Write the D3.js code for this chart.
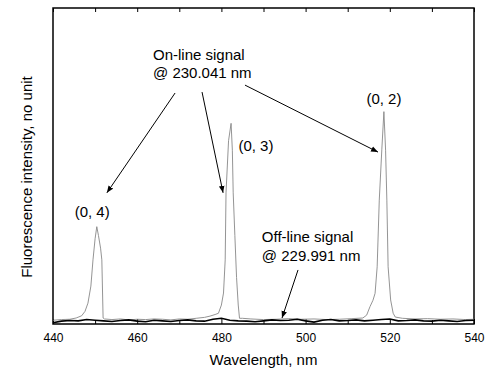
<!DOCTYPE html>
<html>
<head>
<meta charset="utf-8">
<script src="https://cdn.jsdelivr.net/npm/d3@7"></script>
<style>
  body { margin: 0; background: #fff; }
  text { font-family: "Liberation Sans", Arial, sans-serif; fill: #000; }
</style>
</head>
<body>
<svg id="chart" width="490" height="371"></svg>
<script>
// on-line signal (230.041 nm excitation)
const onWl = [440, 442, 444, 445.5, 446.8, 447.6, 448.3, 449.0, 449.5, 450.0, 450.4, 450.8, 451.3, 451.6, 451.9, 452.2,
  454, 456, 458, 460, 462, 464, 466, 468, 470, 472, 474, 476, 477.3, 478.5, 479.3, 480.0, 480.5, 480.9, 481.1, 481.7,
  482.3, 482.6, 482.8, 483.2, 483.6, 484.0, 484.3, 485, 487, 490, 493, 496, 499, 502, 505, 508, 511, 513.6, 514.5,
  515.3, 516.0, 516.5, 517.0, 517.5, 518.1, 518.6, 519.0, 519.3, 519.6, 520.2, 520.8, 521.3, 523, 526, 529, 532, 535, 538, 540];
const onVal = [1.2, 1.4, 1.5, 1.9, 2.6, 4.0, 6.6, 12, 20.3, 27, 30.8, 28, 24, 20.3, 1.9, 1.6,
  1.4, 1.6, 1.3, 1.5, 1.4, 1.6, 1.5, 1.3, 1.6, 1.5, 1.8, 2.1, 2.5, 3.0, 3.4, 6.0, 9.8, 20.3, 41.5, 58,
  63.5, 55, 41.5, 28, 14.7, 6, 1.8, 1.8, 1.6, 1.4, 1.5, 1.7, 1.5, 1.6, 1.4, 1.5, 1.7, 1.9, 2.8,
  5.5, 7.5, 9.7, 18.1, 39.2, 55.1, 67.2, 55, 39.2, 18.1, 7.6, 3.4, 2.2, 1.8, 1.6, 1.7, 1.5, 1.6, 1.4, 1.5];

// off-line signal (229.991 nm), every 2 nm from 440 to 540
const offWl = d3.range(440, 541, 2);
const offVal = [0.4, 0.9, 1.1, 1.0, 1.4, 1.2, 1.0, 0.8, 1.1, 1.3, 0.9, 0.7, 1.2, 1.0, 0.8, 1.1, 1.3,
  1.0, 0.9, 1.5, 1.8, 1.2, 1.0, 0.9, 0.7, 1.0, 1.3, 1.1, 1.2, 1.5, 1.0, 0.6, 1.2, 1.4, 1.0, 1.1, 1.3,
  1.0, 1.2, 1.4, 1.6, 1.0, 1.1, 1.3, 1.0, 0.9, 1.2, 1.0, 0.8, 1.1, 1.2];

const xTicks = [440, 460, 480, 500, 520, 540];
const xMinor = [450, 470, 490, 510, 530];

// annotation text, [wavelength, intensity] anchors
const labels = [
  { t: "On-line signal", x: 463.75, y: 83.5, a: "start" },
  { t: "@ 230.041 nm", x: 463.75, y: 78.0, a: "start" },
  { t: "Off-line signal", x: 489.6, y: 25.9, a: "start" },
  { t: "@ 229.991 nm", x: 489.6, y: 19.9, a: "start" },
  { t: "(0, 4)", x: 449.3, y: 33.9, a: "middle" },
  { t: "(0, 3)", x: 488.2, y: 54.7, a: "middle" },
  { t: "(0, 2)", x: 518.6, y: 69.6, a: "middle" }
];
const arrows = [
  { x1: 469.0, y1: 73.1, x2: 452.8, y2: 41.5 },
  { x1: 475.4, y1: 73.4, x2: 480.4, y2: 41.5 },
  { x1: 485.6, y1: 75.6, x2: 517.2, y2: 54.4 },
  { x1: 498.2, y1: 17.1, x2: 494.4, y2: 1.9 }
];

const m = { left: 53, right: 16, top: 8, bottom: 47 };
const W = 490, H = 371;
const svg = d3.select("#chart");

const x = d3.scaleLinear().domain([440, 540]).range([m.left, W - m.right]);
const y = d3.scaleLinear().domain([0, 100]).range([H - m.bottom, m.top]);

svg.append("defs").append("marker")
  .attr("id", "arr")
  .attr("viewBox", "0 0 10 10")
  .attr("refX", 10).attr("refY", 5)
  .attr("markerWidth", 7).attr("markerHeight", 7)
  .attr("markerUnits", "userSpaceOnUse")
  .attr("orient", "auto")
  .append("path").attr("d", "M0,1 L10,5 L0,9 Z").attr("fill", "#000");

// axes
const bottomAxis = svg.append("g")
  .attr("transform", `translate(0,${y(0)})`)
  .call(d3.axisBottom(x).tickValues(xTicks).tickFormat(d3.format("d")).tickSize(-5).tickPadding(9));
bottomAxis.selectAll("text").style("font-size", "12px").style("font-family", "Liberation Sans, Arial");
bottomAxis.select(".domain").remove();

svg.append("g")
  .attr("transform", `translate(0,${y(0)})`)
  .call(d3.axisBottom(x).tickValues(xMinor).tickFormat("").tickSize(-4))
  .select(".domain").remove();

const topAxis = svg.append("g")
  .attr("transform", `translate(0,${y(100)})`)
  .call(d3.axisTop(x).tickValues(xTicks.concat(xMinor)).tickFormat("").tickSize(-4));
topAxis.select(".domain").remove();

// frame
svg.append("rect")
  .attr("x", x(440)).attr("y", y(100))
  .attr("width", x(540) - x(440)).attr("height", y(0) - y(100))
  .attr("fill", "none").attr("stroke", "#000").attr("stroke-width", 1.5);

const line = d3.line().x((d) => x(d[0])).y((d) => y(d[1]));

svg.append("path")
  .datum(onWl.map((w, i) => [w, onVal[i]]))
  .attr("d", line)
  .attr("fill", "none").attr("stroke", "#888").attr("stroke-width", 0.9);

svg.append("path")
  .datum(offWl.map((w, i) => [w, offVal[i]]))
  .attr("d", line)
  .attr("fill", "none").attr("stroke", "#000").attr("stroke-width", 1.6);

svg.append("g").selectAll("line")
  .data(arrows).enter().append("line")
  .attr("x1", (d) => x(d.x1)).attr("y1", (d) => y(d.y1))
  .attr("x2", (d) => x(d.x2)).attr("y2", (d) => y(d.y2))
  .attr("stroke", "#000").attr("stroke-width", 1)
  .attr("marker-end", "url(#arr)");

svg.append("g").selectAll("text")
  .data(labels).enter().append("text")
  .attr("x", (d) => x(d.x)).attr("y", (d) => y(d.y))
  .attr("text-anchor", (d) => d.a)
  .style("font-size", "15px")
  .text((d) => d.t);

// axis titles
svg.append("text")
  .attr("x", (x(440) + x(540)) / 2).attr("y", 365)
  .attr("text-anchor", "middle").style("font-size", "15px")
  .text("Wavelength, nm");

svg.append("text")
  .attr("transform", `translate(32,${(y(0) + y(100)) / 2 + 11}) rotate(-90)`)
  .attr("text-anchor", "middle").style("font-size", "15px")
  .text("Fluorescence intensity, no unit");
</script>
</body>
</html>
